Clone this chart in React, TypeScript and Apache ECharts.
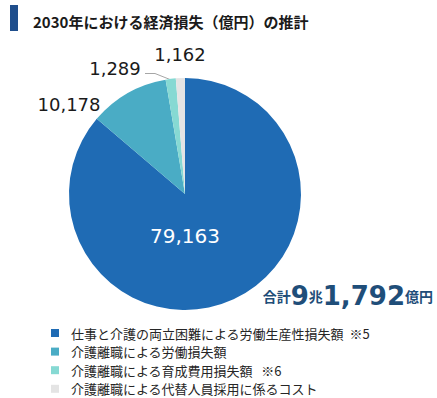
import React, { useEffect, useRef } from "react";
import * as echarts from "echarts";

const title = "2030年における経済損失（億円）の推計";
const categories = [
  "仕事と介護の両立困難による労働生産性損失額",
  "介護離職による労働損失額",
  "介護離職による育成費用損失額",
  "介護離職による代替人員採用に係るコスト",
];
const notes = ["  ※5", "", "   ※6", ""];
const values = [79163, 10178, 1289, 1162];
const colors = ["#1f6bb4", "#4aacc5", "#86d9d3", "#e4e4e4"];

// label anchor positions (layout only)
const labelPos: number[][] = [
  [185, 236],
  [69, 104],
  [115, 68],
  [180, 54],
];

export default function App() {
  const ref = useRef<HTMLDivElement>(null);
  useEffect(() => {
    if (!ref.current) return;
    const chart = echarts.init(ref.current, null, { renderer: "svg" });
    const total = values.reduce((a, b) => a + b, 0);
    const cho = Math.floor(total / 10000);
    const rest = (total % 10000).toLocaleString("en-US");
    const jp = "Noto Sans CJK JP";
    const num = "DejaVu Sans";
    chart.setOption({
      animation: false,
      color: colors,
      graphic: [
        { type: "rect", shape: { x: 10, y: 5, width: 8, height: 26 }, style: { fill: "#1f4e8c" } },
        {
          type: "text",
          x: 33,
          y: 21.5,
          style: {
            text: title,
            font: `bold 15px "${jp}"`,
            fill: "#1a1a1a",
            verticalAlign: "middle",
          },
        },
        {
          type: "text",
          x: 433,
          y: 309,
          style: {
            text: `{a|合計}{b|${cho}}{a|兆}{b|${rest}}{a|億円}`,
            align: "right",
            verticalAlign: "bottom",
            rich: {
              a: { fontFamily: jp, fontWeight: "bold", fontSize: 14, fill: "#1f4e79", color: "#1f4e79" },
              b: { fontFamily: num, fontWeight: "bold", fontSize: 26, fill: "#1f4e79", color: "#1f4e79" },
            },
          },
        },
      ],
      legend: {
        orient: "vertical",
        left: 46,
        top: 321,
        height: 76,
        icon: "rect",
        itemWidth: 8,
        itemHeight: 8,
        itemGap: 4.6,
        selectedMode: false,
        data: categories,
        formatter: (name: string) => name + notes[categories.indexOf(name)],
        textStyle: {
          fontSize: 13,
          lineHeight: 14,
          color: "#262626",
          fontFamily: jp,
          padding: [0, 0, 0, 7],
        },
      },
      series: [
        {
          type: "pie",
          center: [185, 194],
          radius: [0, 116],
          startAngle: 90,
          clockwise: true,
          silent: true,
          data: categories.map((c, i) => ({
            name: c,
            value: values[i],
            label: {
              show: true,
              position: i === 0 ? "inside" : "outside",
              color: i === 0 ? "#ffffff" : "#1a1a1a",
              fontSize: i === 0 ? 20 : 18,
              fontFamily: num,
              overflow: "none",
            },
            labelLine: { show: i === 2, lineStyle: { color: "#a6a6a6", width: 1 } },
          })),
          label: {
            overflow: "none",
            formatter: (p: any) => p.value.toLocaleString("en-US"),
          },
          labelLayout: (p: any) => {
            const i = p.dataIndex;
            const r: any = { x: labelPos[i][0], y: labelPos[i][1], align: "center", verticalAlign: "middle" };
            if (i === 2) r.labelLinePoints = [[170, 79.5], [155, 73.5], [145, 73.5]];
            return r;
          },
        },
      ],
    });
    return () => chart.dispose();
  }, []);
  return <div ref={ref} style={{ position: "absolute", left: 0, top: 0, width: 437, height: 398 }} />;
}
